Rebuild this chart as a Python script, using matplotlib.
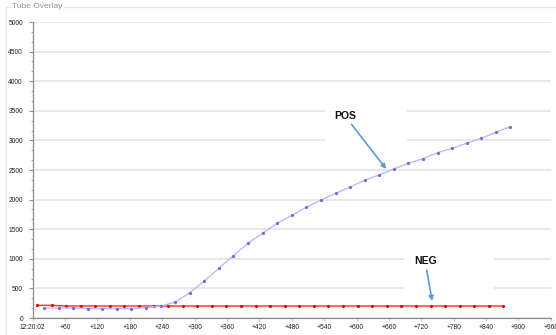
"""Tube overlay amplification curves"""
import matplotlib.pyplot as plt
from matplotlib.lines import Line2D
from matplotlib.patches import Rectangle
from matplotlib.ticker import MultipleLocator

# seconds after run start for each reading
neg_time = [8, 35, 62, 89, 116, 143, 170, 197, 224, 251, 278, 305, 332, 359, 386, 413,
            440, 467, 494, 521, 548, 575, 602, 629, 656, 683, 710, 737, 764, 791, 818,
            845, 872]
pos_time = [21, 48, 75, 102, 129, 156, 183, 210, 237, 264, 291, 318, 345, 372, 399, 426,
            453, 480, 507, 534, 561, 588, 615, 642, 669, 696, 723, 750, 777, 804, 831,
            858, 885]

neg_signal = [214, 214, 203, 203, 203, 203, 203, 203, 203, 203, 203, 203, 203, 203, 203,
              203, 203, 203, 203, 203, 203, 203, 203, 203, 203, 203, 203, 203, 203, 203,
              203, 203, 203]
pos_signal = [169, 169, 169, 157, 157, 157, 157, 175, 198, 270, 428, 625, 840, 1055,
              1265, 1433, 1600, 1735, 1870, 1993, 2106, 2213, 2326, 2416, 2517, 2613,
              2691, 2792, 2867, 2951, 3035, 3137, 3232]

tick_pos = [0, 60, 120, 180, 240, 300, 360, 420, 480, 540, 600, 660, 720, 780, 840, 900, 960]
tick_labels = ["12:20:02", "+60", "+120", "+180", "+240", "+300", "+360", "+420", "+480",
               "+540", "+600", "+660", "+720", "+780", "+840", "+900", "+960"]

plt.rcParams["font.family"] = ["Liberation Sans", "DejaVu Sans"]

fig = plt.figure(figsize=(5.56, 3.35), dpi=100)
ax = fig.add_axes([0.0588, 0.0507, 0.932, 0.8836])

# group box frame around the chart
frame_col = "#e3e9ec"
fig.add_artist(Line2D([6 / 556, 6 / 556], [0, 1 - 7 / 335], transform=fig.transFigure,
                      color=frame_col, lw=1))
fig.add_artist(Line2D([6 / 556, 10 / 556], [1 - 7 / 335] * 2, transform=fig.transFigure,
                      color=frame_col, lw=1))
fig.add_artist(Line2D([64 / 556, 1], [1 - 7 / 335] * 2, transform=fig.transFigure,
                      color=frame_col, lw=1))
fig.text(12 / 556, 1 - 7 / 335, "Tube Overlay", fontsize=6, color="#8a96a2",
         va="center", ha="left")

ax.plot(neg_time, neg_signal, color="#ff2a2a", lw=1.0, marker="o", ms=1.3,
        mfc="#d01010", mec="#d01010", zorder=4)
ax.plot(pos_time, pos_signal, color="#c0b8f8", lw=1.0, marker="o", ms=1.3,
        mfc="#7a68d8", mec="#7a68d8", zorder=4)

# white label panels sitting on top of the grid
ax.add_patch(Rectangle((541, 2800), 153, 900, fc="white", ec="none", zorder=2))
ax.add_patch(Rectangle((688, 350), 166, 850, fc="white", ec="none", zorder=2))

arrow = dict(arrowstyle="-|>", color="#5b9bd5", lw=1.2, mutation_scale=7,
             shrinkA=1, shrinkB=0)
ax.annotate("POS", xy=(655, 2517), xytext=(578, 3420), ha="center", va="center",
            fontsize=7.5, fontweight="bold", color="#111111", arrowprops=arrow, zorder=5)
ax.annotate("NEG", xy=(740, 287), xytext=(727, 963), ha="center", va="center",
            fontsize=7.5, fontweight="bold", color="#111111", arrowprops=arrow, zorder=5)

ax.set_xlim(0, 960)
ax.set_ylim(0, 5000)
ax.set_xticks(tick_pos)
ax.set_xticklabels(tick_labels)
ax.yaxis.set_major_locator(MultipleLocator(500))
ax.yaxis.set_minor_locator(MultipleLocator(500 / 3))

ax.grid(axis="y", color="#e2e2e2", lw=1.1, zorder=1)
ax.set_axisbelow(True)
for side in ["top", "right"]:
    ax.spines[side].set_visible(False)
for side in ["left", "bottom"]:
    ax.spines[side].set_color("#8c8c8c")
    ax.spines[side].set_linewidth(0.9)

ax.tick_params(axis="x", labelsize=4.8, colors="#9fd8ea", labelcolor="#222222",
               length=2.5, width=0.9, pad=1.5)
ax.tick_params(axis="y", which="major", labelsize=4.8, color="#8c8c8c",
               labelcolor="#222222", length=3, width=0.8, pad=4)
ax.tick_params(axis="y", which="minor", color="#a0a0a0", length=1.5, width=0.6)

fig.savefig("out.png", dpi=100)
